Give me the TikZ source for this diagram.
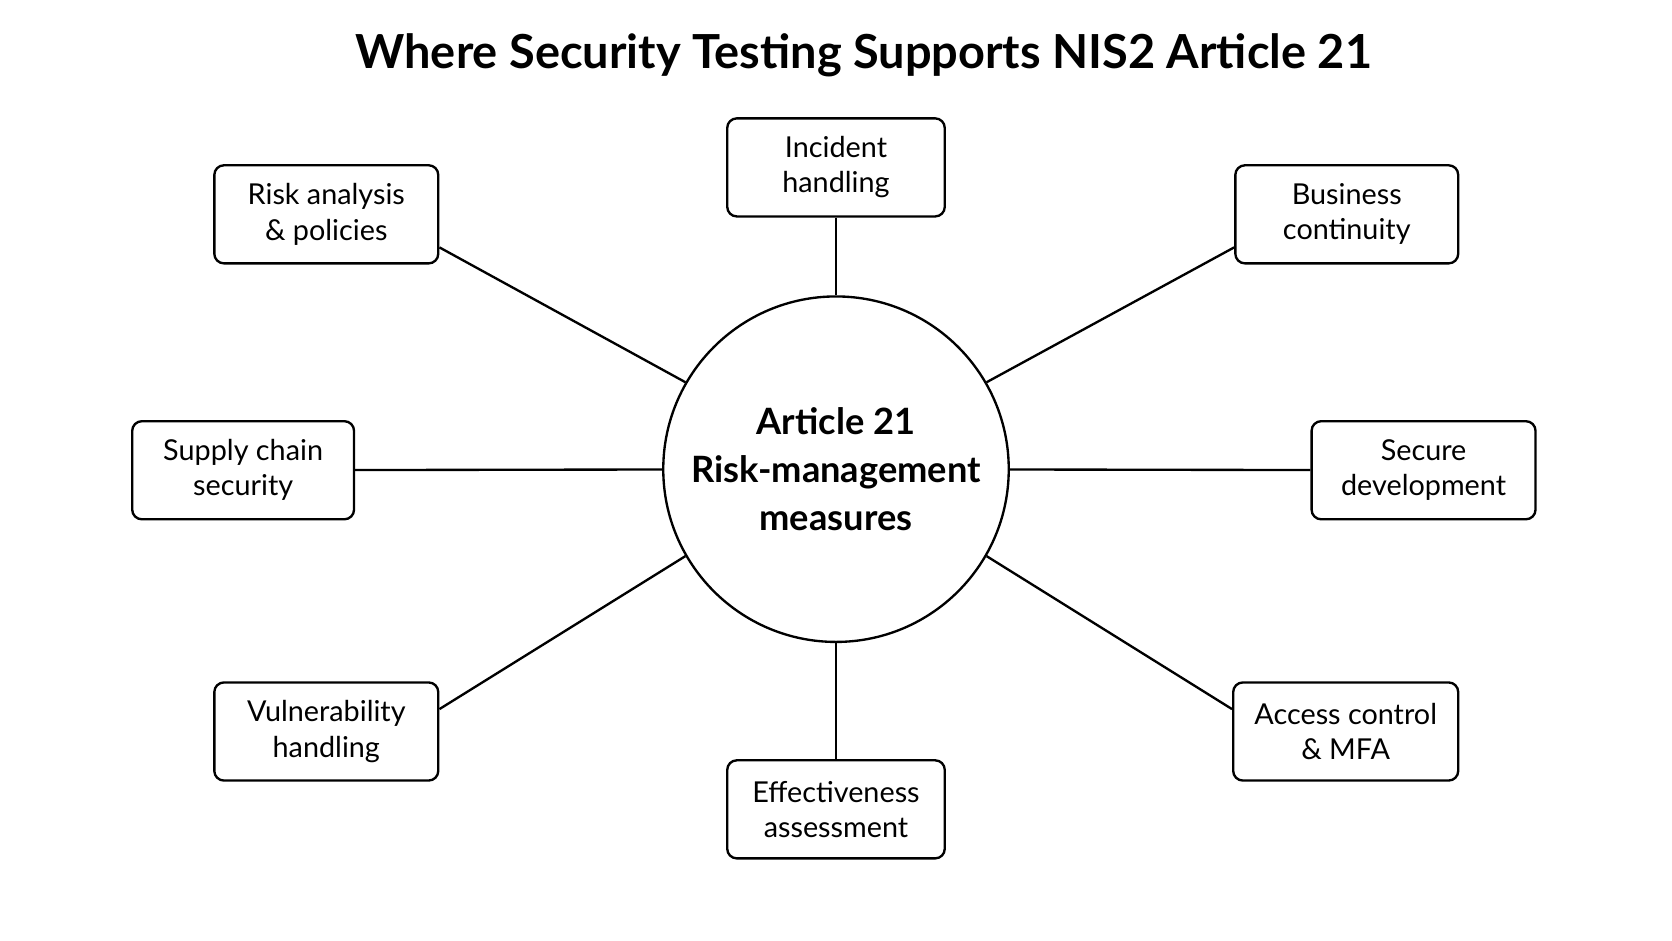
\documentclass[tikz,border=0pt]{standalone}
\usepackage{fontspec}
\setmainfont{Lato}
\usetikzlibrary{calc}
\begin{document}
\begin{tikzpicture}[x=1pt,y=-1pt,
  box/.style={draw,line width=2.2pt,rounded corners=9pt,minimum height=92pt,align=center,font=\fontsize{27}{33}\selectfont,inner sep=0pt},
  ln/.style={line width=2.2pt}]
\useasboundingbox (0,0) rectangle (1568,882);
\fill[white] (0,0) rectangle (1568,882);
\node (title) at (810,52) {\fontsize{44}{50}\selectfont\bfseries Where Security Testing Supports NIS2 Article 21};
\node[draw,circle,line width=2.2pt,minimum size=324pt,inner sep=0pt,align=center,font=\fontsize{34}{45}\selectfont\bfseries] (c) at (784,440) {Article 21\\Risk-management\\measures};
\node[box,minimum width=204pt] (inc) at (784,157) {Incident\\handling};
\node[box,minimum width=210pt] (risk) at (306,201) {Risk analysis\\\& policies};
\node[box,minimum width=209pt] (bus) at (1263,201) {Business\\continuity};
\node[box,minimum width=208pt] (sup) at (228,441) {Supply chain\\security};
\node[box,minimum width=210pt] (sec) at (1335,441) {Secure\\development};
\node[box,minimum width=210pt] (vul) at (306,686) {Vulnerability\\handling};
\node[box,minimum width=211pt] (acc) at (1262,686) {Access control\\\& MFA};
\node[box,minimum width=204pt] (eff) at (784,759) {Effectiveness\\assessment};
\draw[ln] (inc) -- (c);
\draw[ln] (eff) -- (c);
\draw[ln] (sup) -- (c);
\draw[ln] (sec) -- (c);
\coordinate (r1) at ($(risk.east)+(0,31)$);
\coordinate (b1) at ($(bus.west)+(0,31)$);
\coordinate (v1) at ($(vul.east)+(0,-21)$);
\coordinate (a1) at ($(acc.west)+(0,-21)$);
\draw[ln] (r1) -- (c.150);
\draw[ln] (b1) -- (c.30);
\draw[ln] (v1) -- (c.210);
\draw[ln] (a1) -- (c.330);
\end{tikzpicture}
\end{document}
